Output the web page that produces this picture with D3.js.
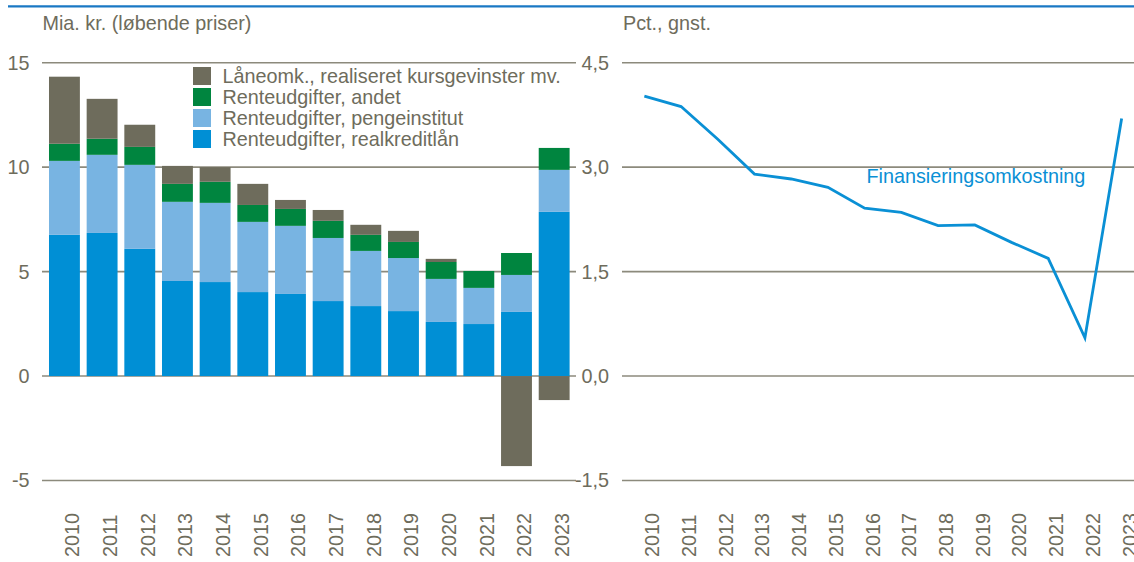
<!DOCTYPE html>
<html>
<head>
<meta charset="utf-8">
<script src="https://cdn.jsdelivr.net/npm/d3@7"></script>
<style>
  html, body { margin: 0; padding: 0; background: #fff; }
  svg { display: block; }
  text { font-family: "Liberation Sans", Arial, sans-serif; }
</style>
</head>
<body>
<svg id="chart" width="1134" height="562"></svg>
<script>
const years = ["2010","2011","2012","2013","2014","2015","2016","2017","2018","2019","2020","2021","2022","2023"];
const realkredit   = [6.76, 6.85, 6.09, 4.55, 4.50, 4.02, 3.93, 3.59, 3.35, 3.11, 2.59, 2.49, 3.07, 7.86];
const pengeinst    = [3.54, 3.74, 4.02, 3.79, 3.79, 3.36, 3.26, 3.02, 2.64, 2.54, 2.06, 1.73, 1.77, 2.01];
const andet        = [0.82, 0.77, 0.86, 0.86, 1.01, 0.81, 0.81, 0.82, 0.77, 0.77, 0.81, 0.81, 1.05, 1.05];
const laaneomk     = [3.21, 1.91, 1.06, 0.86, 0.70, 1.01, 0.43, 0.52, 0.48, 0.53, 0.15, 0.00, -4.31, -1.15];
const finansiering = [4.02, 3.87, 3.40, 2.90, 2.83, 2.71, 2.41, 2.35, 2.16, 2.17, 1.92, 1.69, 0.55, 3.70];

const leftTicks = [-5, 0, 5, 10, 15];
const leftTickLabels = ["-5", "0", "5", "10", "15"];
const rightTicks = [-1.5, 0, 1.5, 3, 4.5];
const rightTickLabels = ["-1,5", "0,0", "1,5", "3,0", "4,5"];

const seriesKeys = ["realkredit", "pengeinst", "andet", "laaneomk"];
const seriesNames = {
  laaneomk: "Låneomk., realiseret kursgevinster mv.",
  andet: "Renteudgifter, andet",
  pengeinst: "Renteudgifter, pengeinstitut",
  realkredit: "Renteudgifter, realkreditlån"
};
const legendOrder = ["laaneomk", "andet", "pengeinst", "realkredit"];

const colors = {
  realkredit: "#008fd5",
  pengeinst: "#78b4e2",
  andet: "#00853f",
  laaneomk: "#6e6c5c"
};
const textColor = "#6e6c5c";
const gridColor = "#8c8a7c";
const lineColor = "#0a90d5";
const FS = "19.8px";

const svg = d3.select("#chart");

// top rule
svg.append("line").attr("x1", 8).attr("x2", 1134).attr("y1", 6.3).attr("y2", 6.3)
  .attr("stroke", "#1a78c4").attr("stroke-width", 2.2);

// titles
svg.append("text").attr("x", 42.5).attr("y", 30).attr("fill", textColor).style("font-size", FS)
  .text("Mia. kr. (løbende priser)");
svg.append("text").attr("x", 623).attr("y", 30).attr("fill", textColor).style("font-size", FS)
  .text("Pct., gnst.");

// scales
const yL = d3.scaleLinear().domain([-5, 15]).range([480.5, 62.7]);
const yR = d3.scaleLinear().domain([-1.5, 4.5]).range([480.5, 62.7]);
const xL = d3.scaleBand().domain(years).range([45.6, 573]).paddingInner(0.18).paddingOuter(0.09);
const xR = d3.scalePoint().domain(years).range([626, 1140]).padding(0.5);

// gridlines
const gL = svg.append("g");
gL.selectAll("line").data(leftTicks).join("line")
  .attr("x1", 42).attr("x2", 576)
  .attr("y1", d => yL(d)).attr("y2", d => yL(d))
  .attr("stroke", gridColor).attr("stroke-width", 1.6);
const gR = svg.append("g");
gR.selectAll("line").data(rightTicks).join("line")
  .attr("x1", 622).attr("x2", 1134)
  .attr("y1", d => yR(d)).attr("y2", d => yR(d))
  .attr("stroke", gridColor).attr("stroke-width", 1.6);

// left axis labels
svg.append("g").selectAll("text").data(leftTicks).join("text")
  .attr("x", 29.5).attr("y", d => yL(d)).attr("dy", "0.35em")
  .attr("text-anchor", "end").attr("fill", textColor).style("font-size", FS)
  .text((d, i) => leftTickLabels[i]);
// right axis labels
svg.append("g").selectAll("text").data(rightTicks).join("text")
  .attr("x", 609).attr("y", d => yR(d)).attr("dy", "0.35em")
  .attr("text-anchor", "end").attr("fill", textColor).style("font-size", FS)
  .text((d, i) => rightTickLabels[i]);

// stacked bars
const rows = years.map((y, i) => ({
  year: y,
  realkredit: realkredit[i],
  pengeinst: pengeinst[i],
  andet: andet[i],
  laaneomk: laaneomk[i]
}));
const stack = d3.stack().keys(seriesKeys).offset(d3.stackOffsetDiverging);
const stacked = stack(rows);

svg.append("g").selectAll("g").data(stacked).join("g")
  .attr("fill", d => colors[d.key])
  .selectAll("rect").data(d => d).join("rect")
  .attr("x", d => xL(d.data.year))
  .attr("width", xL.bandwidth())
  .attr("y", d => yL(Math.max(d[0], d[1])))
  .attr("height", d => Math.abs(yL(d[0]) - yL(d[1])));

// legend
const lg = svg.append("g");
legendOrder.forEach((k, i) => {
  const cy = 76 + i * 21;
  lg.append("rect").attr("x", 193).attr("y", cy - 9).attr("width", 18).attr("height", 18)
    .attr("fill", colors[k]);
  lg.append("text").attr("x", 222.5).attr("y", cy + 7).attr("fill", textColor)
    .style("font-size", FS).text(seriesNames[k]);
});

// line chart
const line = d3.line().x((d, i) => xR(years[i])).y(d => yR(d));
svg.append("path").datum(finansiering)
  .attr("d", line).attr("fill", "none")
  .attr("stroke", lineColor).attr("stroke-width", 2.8)
  .attr("stroke-linejoin", "miter");

svg.append("text").attr("x", 866.5).attr("y", 183.3).attr("fill", lineColor)
  .style("font-size", FS).text("Finansieringsomkostning");

// x labels
function xLabels(getX) {
  svg.append("g").selectAll("text").data(years).join("text")
    .attr("transform", d => `translate(${getX(d)},557) rotate(-90)`)
    .attr("dy", "0.35em")
    .attr("text-anchor", "start")
    .attr("fill", textColor).style("font-size", FS)
    .text(d => d);
}
xLabels(d => xL(d) + xL.bandwidth() / 2 + 8);
xLabels(d => xR(d) + 8);
</script>
</body>
</html>
